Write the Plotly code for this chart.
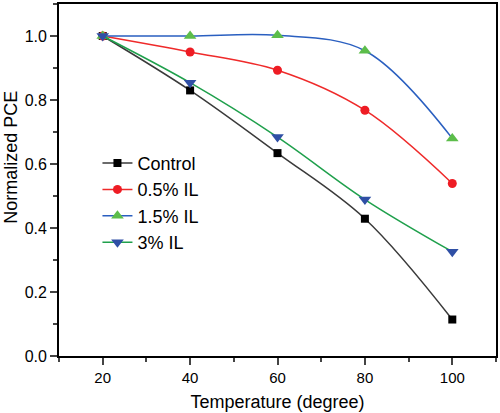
import plotly.graph_objects as go

temperature = [20, 40, 60, 80, 100]
control = [1.0, 0.830, 0.634, 0.429, 0.114]
il_05 = [1.0, 0.950, 0.893, 0.768, 0.539]
il_15 = [1.0, 1.0, 1.002, 0.954, 0.680]
il_3 = [1.0, 0.854, 0.684, 0.489, 0.326]

series = [
    ("Control", control, "#3a3a3a", "#000000", "square", 8),
    ("0.5% IL", il_05, "#ef2a2a", "#ee1c24", "circle", 9),
    ("1.5% IL", il_15, "#2a5fc0", "#5cbd4a", "triangle-up", 11),
    ("3% IL", il_3, "#1fa04c", "#2f4fa5", "triangle-down", 11),
]

fig = go.Figure()
for name, vals, lc, mc, sym, sz in series:
    fig.add_trace(go.Scatter(
        x=temperature, y=vals, name=name, mode="lines+markers",
        line=dict(color=lc, width=1.5, shape="spline", smoothing=1.0),
        marker=dict(color=mc, symbol=sym, size=sz, line=dict(width=0)),
    ))

font = "Arial, Liberation Sans, sans-serif"
fig.update_layout(
    width=500, height=413,
    margin=dict(l=59, r=4, t=2, b=57),
    paper_bgcolor="white", plot_bgcolor="white",
    font=dict(family=font, color="black"),
    showlegend=True,
    legend=dict(x=0.088, y=0.6, xanchor="left", yanchor="top",
                font=dict(size=18, family=font), bgcolor="rgba(0,0,0,0)",
                tracegroupgap=0),
    xaxis=dict(
        range=[10, 110], tickvals=temperature, ticktext=[str(t) for t in temperature],
        ticks="outside", ticklen=7, tickwidth=1.5, showline=True, linewidth=1.8,
        linecolor="black", mirror=True, showgrid=False, zeroline=False,
        tickfont=dict(size=15),
        minor=dict(ticks="outside", ticklen=4, tickwidth=1.5, dtick=10, tick0=10,
                   showgrid=False),
        title=dict(text="Temperature (degree)", font=dict(size=18), standoff=10),
    ),
    yaxis=dict(
        range=[0, 1.1], tickvals=[0, 0.2, 0.4, 0.6, 0.8, 1.0],
        ticktext=["0.0", "0.2", "0.4", "0.6", "0.8", "1.0"],
        ticks="outside", ticklen=7, tickwidth=1.5, showline=True, linewidth=1.8,
        linecolor="black", mirror=True, showgrid=False, zeroline=False,
        tickfont=dict(size=16),
        minor=dict(ticks="outside", ticklen=4, tickwidth=1.5, dtick=0.1, tick0=0,
                   showgrid=False),
    ),
    annotations=[dict(
        text="Normalized PCE", textangle=-90, xref="paper", yref="paper",
        x=-0.11, y=0.566, xanchor="center", yanchor="middle", showarrow=False,
        font=dict(size=18, family=font),
    )],
)

fig.write_html("out.html", config={"displayModeBar": False},
               post_script="document.body.style.margin='0px';")
